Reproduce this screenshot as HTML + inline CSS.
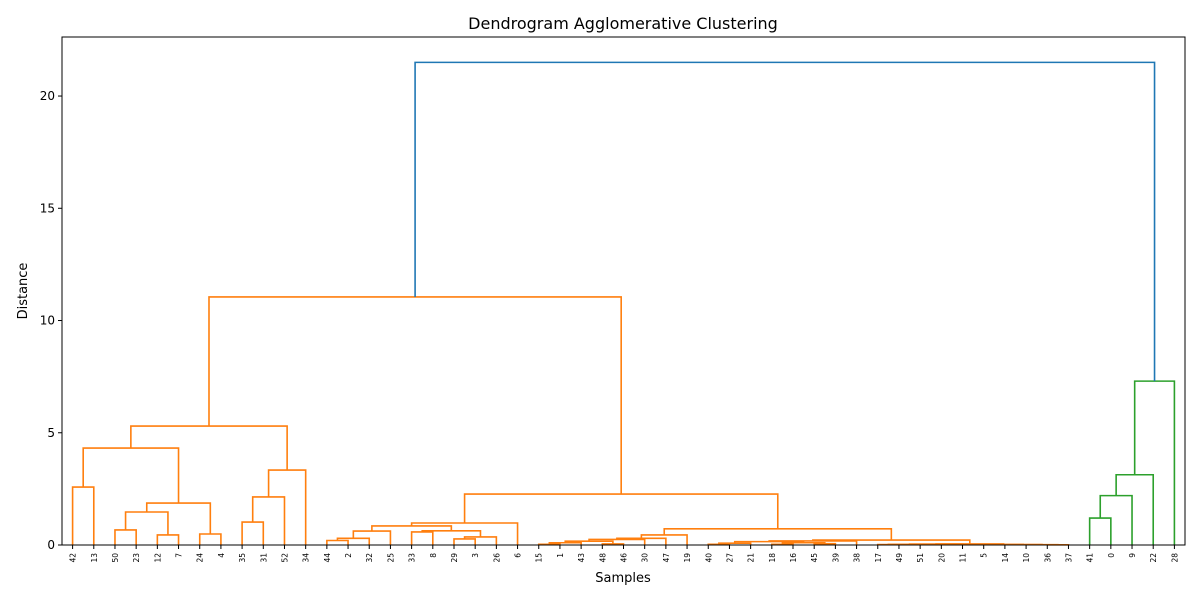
<!DOCTYPE html>
<html><head><meta charset="utf-8"><style>
html,body{margin:0;padding:0;background:#fff;}
svg{display:block;font-family:"DejaVu Sans","Liberation Sans",sans-serif;}
</style></head><body>
<svg id="chart" width="1200" height="600" viewBox="0 0 1200 600">
<rect x="0" y="0" width="1200" height="600" fill="#fff"/>
<text x="623" y="29" text-anchor="middle" font-size="16" fill="#000">Dendrogram Agglomerative Clustering</text>
<text x="623" y="582" text-anchor="middle" font-size="13" fill="#000">Samples</text>
<text transform="translate(27,291) rotate(-90)" text-anchor="middle" font-size="13" fill="#000">Distance</text>
<g id="marks"></g>
<g id="axes"></g>
</svg>
<script>
const leafLabels = ["42","13","50","23","12","7","24","4","35","31","52","34","44","2","32","25","33","8","29","3","26","6","15","1","43","48","46","30","47","19","40","27","21","18","16","45","39","38","17","49","51","20","11","5","14","10","36","37","41","0","9","22","28"];
const mergeLeft  = [0,2,4,54,6,56,53,8,60,61,59,12,64,65,16,18,68,67,66,71,22,73,25,74,76,77,78,30,80,33,35,82,81,85,38,40,87,89,46,45,44,43,90,86,79,72,63,48,100,101,102,99];
const mergeRight = [1,3,5,55,7,57,58,9,10,11,62,13,14,15,17,19,20,69,70,21,23,24,26,75,27,28,29,31,32,34,36,83,84,37,39,41,88,42,47,91,92,93,94,95,96,97,98,49,50,51,52,103];
const mergeHeight = [2.58,0.67,0.45,1.47,0.49,1.87,4.32,1.02,2.14,3.34,5.3,0.2,0.3,0.62,0.58,0.27,0.36,0.63,0.85,0.98,0.03,0.1,0.05,0.17,0.25,0.3,0.45,0.03,0.08,0.03,0.06,0.1,0.15,0.18,0.02,0.02,0.03,0.04,0.01,0.015,0.02,0.025,0.05,0.22,0.72,2.27,11.05,1.2,2.2,3.13,7.3,21.5];
const yTicks = [0,5,10,15,20];

const NS="http://www.w3.org/2000/svg";
const X0=62,X1=1185,Y0=545,Y1=37;
const n=leafLabels.length;
const xMax=n*10, yMax=22.63;
const xs=v=>X0+v*(X1-X0)/xMax;
const ys=h=>Y0-h*(Y0-Y1)/yMax;
const pos={},hgt={};
for(let i=0;i<n;i++){pos[i]=5+10*i;hgt[i]=0;}
for(let k=0;k<mergeLeft.length;k++){const id=n+k;pos[id]=(pos[mergeLeft[k]]+pos[mergeRight[k]])/2;hgt[id]=mergeHeight[k];}
const color={};
const rootId=n+mergeLeft.length-1;
const pal=["#ff7f0e","#2ca02c","#d62728","#9467bd"];
color[rootId]="#1f77b4";
function paint(id,c){if(id<n)return;color[id]=c;const k=id-n;paint(mergeLeft[k],c);paint(mergeRight[k],c);}
paint(mergeLeft[rootId-n],pal[0]);paint(mergeRight[rootId-n],pal[1]);
const marks=document.getElementById('marks');
for(let k=0;k<mergeLeft.length;k++){
  const id=n+k,a=mergeLeft[k],b=mergeRight[k],h=mergeHeight[k];
  const p=document.createElementNS(NS,'path');
  p.setAttribute('d',`M${xs(pos[a])},${ys(hgt[a])}V${ys(h)}H${xs(pos[b])}V${ys(hgt[b])}`);
  p.setAttribute('fill','none');p.setAttribute('stroke',color[id]);p.setAttribute('stroke-width','1.6');
  
  
  marks.appendChild(p);
}
const axes=document.getElementById('axes');
const frame=document.createElementNS(NS,'rect');
frame.setAttribute('x',X0);frame.setAttribute('y',Y1);frame.setAttribute('width',X1-X0);frame.setAttribute('height',Y0-Y1);
frame.setAttribute('fill','none');frame.setAttribute('stroke','#000');frame.setAttribute('stroke-width','1');


axes.appendChild(frame);
yTicks.forEach(t=>{
  const y=ys(t);
  const l=document.createElementNS(NS,'line');
  l.setAttribute('x1',X0-4);l.setAttribute('x2',X0);l.setAttribute('y1',y);l.setAttribute('y2',y);l.setAttribute('stroke','#000');
  
  
  axes.appendChild(l);
  const tx=document.createElementNS(NS,'text');
  tx.setAttribute('x',X0-7);tx.setAttribute('y',y+4);tx.setAttribute('text-anchor','end');tx.setAttribute('font-size','12');
  tx.textContent=t;
  
  
  axes.appendChild(tx);
});
for(let i=0;i<n;i++){
  const x=xs(pos[i]);
  const l=document.createElementNS(NS,'line');
  l.setAttribute('x1',x);l.setAttribute('x2',x);l.setAttribute('y1',Y0);l.setAttribute('y2',Y0+4);l.setAttribute('stroke','#000');
  
  
  axes.appendChild(l);
  const tx=document.createElementNS(NS,'text');
  tx.setAttribute('transform',`translate(${x+3},${Y0+8}) rotate(-90)`);
  tx.setAttribute('text-anchor','end');tx.setAttribute('font-size','7.5');
  tx.textContent=leafLabels[i];
  
  
  axes.appendChild(tx);
}
</script>
</body></html>
